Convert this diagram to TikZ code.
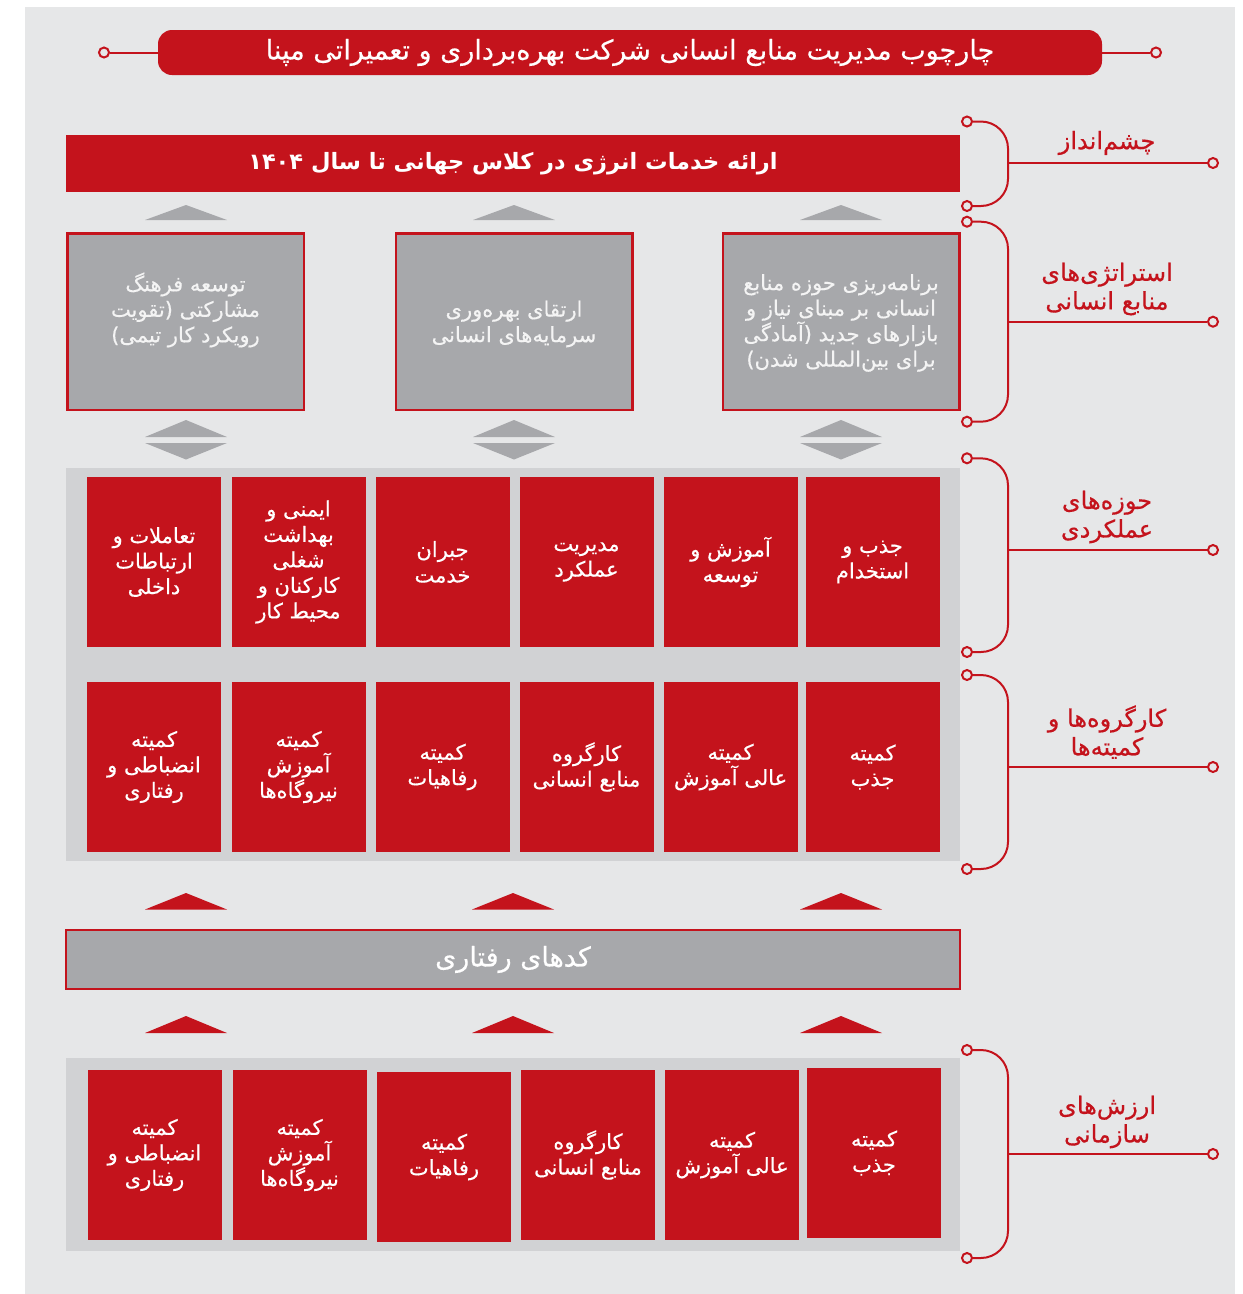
\documentclass[tikz,border=0pt]{standalone}
\usepackage{fontspec}
\newfontfamily\farsi[Script=Arabic,FakeBold=0.45]{DejaVu Sans}
\newfontfamily\farsib[Script=Arabic]{DejaVu Sans Bold}
\TeXXeTstate=1
\newcommand\fa[1]{{\farsi\beginR #1\endR}}
\newcommand\fab[1]{{\farsib\beginR #1\endR}}
\definecolor{mred}{HTML}{C4131C}
\definecolor{mgray}{HTML}{A7A8AB}
\definecolor{mpanel}{HTML}{D1D2D4}
\definecolor{mbg}{HTML}{E6E7E8}
\definecolor{mtext}{HTML}{F4F4F4}
\newcommand\uptri[4]{\fill[#4] ({#1-41},#3) -- (#1,#2) -- ({#1+41},#3) -- cycle;}
\tikzset{
 br/.style={draw=mred, line width=2pt},
 dot/.style={circle, draw=mred, line width=2pt, fill=mbg, inner sep=0pt, minimum size=10pt},
 cell/.style={fill=mred, inner sep=0pt, minimum width=134pt, minimum height=170pt, text=white, align=center, font=\fontsize{21}{25.5}\selectfont},
 sbox/.style={fill=mgray, draw=mred, line width=2.5pt, minimum width=236.5pt, minimum height=176.5pt, inner sep=0pt},
 stext/.style={text=mtext, align=center, font=\fontsize{21}{25.5}\selectfont, inner sep=0pt},
 lab/.style={text=mred, align=center, font=\fontsize{24}{28.5}\selectfont, inner sep=0pt},
 panel/.style={fill=mpanel, inner sep=0pt},
 gtri/.style={fill=mgray},
 rtri/.style={fill=mred},
}
\begin{document}
\begin{tikzpicture}[x=1pt,y=-1pt]
\useasboundingbox[fill=white] (0,0) rectangle (1243,1294);
\fill[mbg] (25,7) rectangle (1235,1294);

% title
\node[fill=mred, rounded corners=14pt, minimum width=944pt, minimum height=45pt, inner sep=0pt, text=white, font=\fontsize{27}{30}\selectfont] (title) at (630,52.5) {\fa{چارچوب مدیریت منابع انسانی شرکت بهره^^^^200cبرداری و تعمیراتی مپنا}};
\node[dot] (tl) at (104,52.5) {};
\node[dot] (tr) at (1156,52.5) {};
\draw[br] (title.west) -- (tl);
\draw[br] (title.east) -- (tr);

% vision
\node[fill=mred, minimum width=894pt, minimum height=57pt, inner sep=0pt, text=white, font=\fontsize{22.5}{28}\selectfont] (vision) at (513,163.5) {\raisebox{3pt}{\fab{ارائه خدمات انرژی در کلاس جهانی تا سال ۱۴۰۴}}};

% gray triangles above strategies
\uptri{186}{205}{220}{gtri}
\uptri{514}{205}{220}{gtri}
\uptri{841}{205}{220}{gtri}

% strategies
\node[sbox] (s1) at (185.5,321.5) {};
\node[sbox] (s2) at (514,321.5) {};
\node[sbox] (s3) at (841,321.5) {};
\node[stext] (s1t) at (185.5,310) {\fa{توسعه فرهنگ}\\\fa{مشارکتی (تقویت}\\\fa{رویکرد کار تیمی)}};
\node[stext] (s2t) at (514,324) {\fa{ارتقای بهره^^^^200cوری}\\\fa{سرمایه^^^^200cهای انسانی}};
\node[stext] (s3t) at (841,323) {\fa{برنامه^^^^200cریزی حوزه منابع}\\\fa{انسانی بر مبنای نیاز و}\\\fa{بازارهای جدید (آمادگی}\\\fa{برای بین^^^^200cالمللی شدن)}};

% double triangles
\foreach \cx in {186,514,841}{
  \uptri{\cx}{420}{437}{gtri}
  \fill[gtri] ({\cx-41},443) -- (\cx,459.5) -- ({\cx+41},443) -- cycle;
}

% panel with areas and committees
\node[panel, minimum width=894pt, minimum height=393pt] (p1) at (513,664.5) {};
\node[cell] (a1) at (154,562) {\fa{تعاملات و}\\\fa{ارتباطات}\\\fa{داخلی}};
\node[cell] (a2) at (298.5,562) {\fa{ایمنی و}\\\fa{بهداشت}\\\fa{شغلی}\\\fa{کارکنان و}\\\fa{محیط کار}};
\node[cell] (a3) at (442.5,562) {\fa{جبران}\\\fa{خدمت}};
\node[cell] (a4) at (586.5,562) {\fa{مدیریت}\\\fa{عملکرد}};
\node[cell] (a5) at (730.5,562) {\fa{آموزش و}\\\fa{توسعه}};
\node[cell] (a6) at (872.5,562) {\fa{جذب و}\\\fa{استخدام}};

\node[cell] (c1) at (154,767) {\fa{کمیته}\\\fa{انضباطی و}\\\fa{رفتاری}};
\node[cell] (c2) at (298.5,767) {\fa{کمیته}\\\fa{آموزش}\\\fa{نیروگاه^^^^200cها}};
\node[cell] (c3) at (442.5,767) {\fa{کمیته}\\\fa{رفاهیات}};
\node[cell] (c4) at (586.5,767) {\fa{کارگروه}\\\fa{منابع انسانی}};
\node[cell] (c5) at (730.5,767) {\fa{کمیته}\\\fa{عالی آموزش}};
\node[cell] (c6) at (872.5,767) {\fa{کمیته}\\\fa{جذب}};

% red triangles + codes
\foreach \cx in {186,513,841}{
  \uptri{\cx}{893}{909.5}{rtri}
  \uptri{\cx}{1016}{1033}{rtri}
}
\node[fill=mgray, draw=mred, line width=2.5pt, minimum width=894pt, minimum height=59pt, inner sep=0pt, text=white, font=\fontsize{27}{30}\selectfont] (codes) at (513,959.5) {\raisebox{2pt}{\fa{کدهای رفتاری}}};

% bottom panel (values)
\node[panel, minimum width=894pt, minimum height=193pt] (p2) at (513,1154.5) {};
\node[cell] (v1) at (154.5,1155) {\fa{کمیته}\\\fa{انضباطی و}\\\fa{رفتاری}};
\node[cell] (v2) at (299.5,1155) {\fa{کمیته}\\\fa{آموزش}\\\fa{نیروگاه^^^^200cها}};
\node[cell] (v3) at (444,1157) {\fa{کمیته}\\\fa{رفاهیات}};
\node[cell] (v4) at (588,1155) {\fa{کارگروه}\\\fa{منابع انسانی}};
\node[cell] (v5) at (732,1155) {\fa{کمیته}\\\fa{عالی آموزش}};
\node[cell] (v6) at (874,1153) {\fa{کمیته}\\\fa{جذب}};

% brackets
\coordinate (vx) at (1008,0);
\foreach \n/\yt/\yb/\ym in {1/121.5/206/163, 2/221.7/421.7/321.7, 3/458.3/652/550, 4/675/869/767, 5/1050/1258/1154}{
  \node[dot] (b\n t) at (967,\yt) {};
  \node[dot] (b\n b) at (967,\yb) {};
  \node[dot] (b\n r) at (1213,\ym) {};
  \draw[br, rounded corners=27pt] (b\n t) -- (b\n t -| vx) -- (b\n b -| vx) -- (b\n b);
  \draw[br] (b\n r -| vx) -- (b\n r);
}
\node[lab] (l1) at (1107,143) {\fa{چشم^^^^200cانداز}};
\node[lab] (l2) at (1107,289) {\fa{استراتژی^^^^200cهای}\\\fa{منابع انسانی}};
\node[lab] (l3) at (1107,517) {\fa{حوزه^^^^200cهای}\\\fa{عملکردی}};
\node[lab] (l4) at (1107,732) {\fa{کارگروه^^^^200cها و}\\\fa{کمیته^^^^200cها}};
\node[lab] (l5) at (1107,1122) {\fa{ارزش^^^^200cهای}\\\fa{سازمانی}};
\end{tikzpicture}
\end{document}
